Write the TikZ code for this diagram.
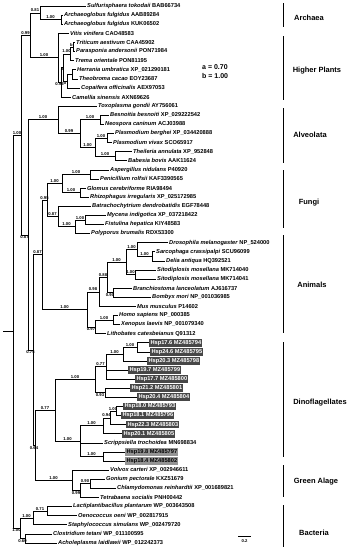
\documentclass[tikz,border=0pt]{standalone}
\usepackage{fontspec}
\setmainfont{Liberation Sans}
\newcommand{\taxon}[2]{\textit{#1} #2}

\begin{document}
\begin{tikzpicture}[x=1pt, y=-1pt,
  branch/.style={line width=0.6pt},
  leaf/.style={anchor=west, inner sep=1pt, font=\fontsize{5.7}{6}\selectfont\bfseries},
  hsp/.style={leaf, fill=black!72, text=white, inner sep=1.3pt},
  hspl/.style={hsp, fill=black!42, text=black},
  sup/.style={inner sep=0.5pt, font=\fontsize{4.2}{4.5}\selectfont\bfseries},
  grp/.style={font=\fontsize{7.5}{8}\selectfont\bfseries},
  key/.style={anchor=west, inner sep=0pt, font=\fontsize{7}{8}\selectfont\bfseries},
  bar/.style={line width=1.2pt}]
\useasboundingbox (0,0) rectangle (352,550);
\node[leaf] (sulf) at (86,6.0) {\taxon{Sulfurisphaera tokodaii}{BAB66734}};
\node[leaf] (arcA) at (63,15.1) {\taxon{Archaeoglobus fulgidus}{AAB89284}};
\node[leaf] (arcK) at (63,24.2) {\taxon{Archaeoglobus fulgidus}{KUK06502}};
\node[leaf] (vit) at (69,33.3) {\taxon{Vitis vinifera}{CAO48583}};
\node[leaf] (tri) at (75,42.4) {\taxon{Triticum aestivum}{CAA45902}};
\node[leaf] (par) at (75,51.5) {\taxon{Parasponia andersonii}{PON71984}};
\node[leaf] (tre) at (74,60.6) {\taxon{Trema orientale}{PON81195}};
\node[leaf] (her) at (76,69.7) {\taxon{Herrania umbratica}{XP\_021290181}};
\node[leaf] (the) at (78,78.8) {\taxon{Theobroma cacao}{EOY23687}};
\node[leaf] (cop) at (80,87.9) {\taxon{Copaifera officinalis}{AEX97053}};
\node[leaf] (cam) at (71,97.0) {\taxon{Camellia sinensis}{AXN69626}};
\node[leaf] (tox) at (97,106.1) {\taxon{Toxoplasma gondii}{AY756061}};
\node[leaf] (bes) at (109,115.2) {\taxon{Besnoitia besnoiti}{XP\_029222542}};
\node[leaf] (neo) at (104,124.3) {\taxon{Neospora caninum}{ACJ03988}};
\node[leaf] (pbe) at (114,133.4) {\taxon{Plasmodium berghei}{XP\_034420888}};
\node[leaf] (pvi) at (112,142.5) {\taxon{Plasmodium vivax}{SCO65917}};
\node[leaf] (thi) at (132,151.6) {\taxon{Theileria annulata}{XP\_952848}};
\node[leaf] (bab) at (127,160.7) {\taxon{Babesia bovis}{AAK11624}};
\node[leaf] (asp) at (109,169.8) {\taxon{Aspergillus nidulans}{P40920}};
\node[leaf] (pen) at (99,178.9) {\taxon{Penicillium rolfsii}{KAF3390565}};
\node[leaf] (glo) at (86,188.0) {\taxon{Glomus cerebriforme}{RIA98494}};
\node[leaf] (rhi) at (89,197.1) {\taxon{Rhizophagus irregularis}{XP\_025172985}};
\node[leaf] (bat) at (91,206.2) {\taxon{Batrachochytrium dendrobatidis}{EGF78448}};
\node[leaf] (myc) at (106,215.3) {\taxon{Mycena indigotica}{XP\_037218422}};
\node[leaf] (fis) at (104,224.4) {\taxon{Fistulina hepatica}{KIY48583}};
\node[leaf] (pol) at (90,233.5) {\taxon{Polyporus brumalis}{RDX53300}};
\node[leaf] (dro) at (168,242.6) {\taxon{Drosophila melanogaster}{NP\_524000}};
\node[leaf] (sar) at (155,251.7) {\taxon{Sarcophaga crassipalpi}{SCU96099}};
\node[leaf] (del) at (165,260.8) {\taxon{Delia antiqua}{HQ392521}};
\node[leaf] (sia) at (156,269.9) {\taxon{Sitodiplosis mosellana}{MK714040}};
\node[leaf] (sib) at (156,279.0) {\taxon{Sitodiplosis mosellana}{MK714041}};
\node[leaf] (bra) at (132,288.1) {\taxon{Branchiostoma lanceolatum}{AJ616737}};
\node[leaf] (bom) at (151,297.2) {\taxon{Bombyx mori}{NP\_001036985}};
\node[leaf] (mus) at (136,306.3) {\taxon{Mus musculus}{P14602}};
\node[leaf] (hom) at (118,315.4) {\taxon{Homo sapiens}{NP\_000385}};
\node[leaf] (xen) at (120,324.5) {\taxon{Xenopus laevis}{NP\_001079340}};
\node[leaf] (lit) at (106,333.6) {\taxon{Lithobates catesbeianus}{Q91312}};
\node[hsp] (h17a) at (149,342.7) {Hsp17.6 MZ485794};
\node[hsp] (h24) at (150,351.8) {Hsp24.6 MZ485795};
\node[hsp] (h20c) at (147,360.9) {Hsp20.3 MZ485798};
\node[hsp] (h19a) at (128,370.0) {Hsp19.7 MZ485799};
\node[hsp] (h17b) at (135,379.1) {Hsp17.7 MZ485800};
\node[hsp] (h21) at (130,388.2) {Hsp21.2 MZ485801};
\node[hsp] (h20d) at (137,397.3) {Hsp20.4 MZ485804};
\node[hsp] (h18a) at (123,406.4) {Hsp18.0 MZ485793};
\node[hsp] (h18b) at (121,415.5) {Hsp18.1 MZ485796};
\node[hsp] (h22) at (126,424.6) {Hsp22.3 MZ485803};
\node[hsp] (h20a) at (122,433.7) {Hsp20.1 MZ485805};
\node[leaf] (scr) at (103,442.8) {\taxon{Scrippsiella trochoidea}{MN698834}};
\node[hspl] (h19b) at (125,451.9) {Hsp19.8 MZ485797};
\node[hspl] (h18c) at (125,461.0) {Hsp18.4 MZ485802};
\node[leaf] (vol) at (109,470.1) {\taxon{Volvox carteri}{XP\_002946611}};
\node[leaf] (gon) at (105,479.2) {\taxon{Gonium pectorale}{KXZ51679}};
\node[leaf] (chl) at (116,488.3) {\taxon{Chlamydomonas reinhardtii}{XP\_001689821}};
\node[leaf] (tet) at (99,497.4) {\taxon{Tetrabaena socialis}{PNH00442}};
\node[leaf] (lac) at (72,506.5) {\taxon{Lactiplantibacillus plantarum}{WP\_003643508}};
\node[leaf] (oen) at (77,515.6) {\taxon{Oenococcus oeni}{WP\_002817915}};
\node[leaf] (sta) at (67,524.7) {\taxon{Staphylococcus simulans}{WP\_002479720}};
\node[leaf] (clo) at (52,533.8) {\taxon{Clostridium tetani}{WP\_011100595}};
\node[leaf] (ach) at (57,542.9) {\taxon{Acholeplasma laidlawii}{WP\_012242373}};
\coordinate (arc) at (61,19.65);
\coordinate (n081) at (40,12.8);
\coordinate (tripar) at (73,46.95);
\coordinate (trp) at (70,53.8);
\coordinate (herthe) at (72,74.25);
\coordinate (herc) at (67,81.1);
\coordinate (pa) at (63,67.4);
\coordinate (p093) at (61,82.2);
\coordinate (p100) at (58,57.75);
\coordinate (n099) at (30,35.3);
\coordinate (besneo) at (100,119.75);
\coordinate (plas) at (107,137.95);
\coordinate (thba) at (115,156.15);
\coordinate (apic) at (95,147.05);
\coordinate (a099) at (80,133.4);
\coordinate (alv) at (58,119.75);
\coordinate (asppen) at (90,174.35);
\coordinate (glorhi) at (80,192.55);
\coordinate (f1) at (62,183.45);
\coordinate (mycfis) at (85,219.85);
\coordinate (f3) at (75,226.7);
\coordinate (f087) at (58,216.45);
\coordinate (fun) at (47,199.95);
\coordinate (sardel) at (152,256.25);
\coordinate (dros) at (137,249.4);
\coordinate (sito) at (135,274.45);
\coordinate (ins) at (126,261.9);
\coordinate (brabom) at (113,292.65);
\coordinate (an088) at (107,277.3);
\coordinate (an098) at (99,291.8);
\coordinate (homxen) at (113,319.95);
\coordinate (vert) at (95,326.8);
\coordinate (ani) at (87,309.3);
\coordinate (fa) at (42,254.6);
\coordinate (h176) at (137,347.25);
\coordinate (h203) at (123,354.1);
\coordinate (d077) at (106,366.6);
\coordinate (h212) at (105,392.75);
\coordinate (d1) at (95,379.7);
\coordinate (h180) at (116,410.95);
\coordinate (d094) at (110,417.8);
\coordinate (d7) at (103,425.75);
\coordinate (h198) at (103,456.45);
\coordinate (d2) at (80,441.1);
\coordinate (d0) at (55,410.4);
\coordinate (gonchl) at (90,483.75);
\coordinate (g099) at (80,490.6);
\coordinate (grn) at (72,480.35);
\coordinate (n064) at (35,445.4);
\coordinate (n075) at (33,350);
\coordinate (n087) at (28,234.9);
\coordinate (n100) at (21,135.1);
\coordinate (lacoen) at (47,511.05);
\coordinate (b100) at (33,517.9);
\coordinate (clach) at (25,538.35);
\coordinate (bac) at (20,528.1);
\coordinate (root) at (13,331.6);
\coordinate (start) at (3,331.6);
\draw[branch] (start) -- (root);
\draw[branch] (root) |- node[sup,pos=.75,above]{1.00} (n100);
\draw[branch] (root) |- node[sup,pos=.75,below]{1.00} (bac);
\draw[branch] (n100) |- node[sup,pos=.75,above]{0.99} (n099);
\draw[branch] (n100) |- node[sup,pos=.75,below]{0.87} (n087);
\draw[branch] (n099) |- node[sup,pos=.75,above]{0.81} (n081);
\draw[branch] (n099) |- node[sup,pos=.75,above]{1.00} (p100);
\draw[branch] (n081) |- (sulf);
\draw[branch] (n081) |- node[sup,pos=.75,above]{1.00} (arc);
\draw[branch] (arc) |- (arcA) (arc) |- (arcK);
\draw[branch] (p100) |- (vit);
\draw[branch] (p100) |- node[sup,pos=.75,below]{0.93} (p093);
\draw[branch] (p093) |- node[sup,pos=.75,below]{a} (pa);
\draw[branch] (p093) |- (cam);
\draw[branch] (pa) |- node[sup,pos=.75,above]{1.00} (trp);
\draw[branch] (pa) |- node[sup,pos=.75,below]{b} (herc);
\draw[branch] (trp) |- node[sup,pos=.75,above]{b} (tripar);
\draw[branch] (trp) |- (tre);
\draw[branch] (tripar) |- (tri) (tripar) |- (par);
\draw[branch] (herc) |- (herthe) (herc) |- (cop);
\draw[branch] (herthe) |- (her) (herthe) |- (the);
\draw[branch] (n087) |- node[sup,pos=.75,above]{1.00} (alv);
\draw[branch] (n087) |- node[sup,pos=.75,below]{0.75} (n075);
\draw[branch] (alv) |- (tox);
\draw[branch] (alv) |- node[sup,pos=.75,above]{0.99} (a099);
\draw[branch] (a099) |- node[sup,pos=.75,above]{1.00} (besneo);
\draw[branch] (a099) |- node[sup,pos=.75,above]{1.00} (apic);
\draw[branch] (besneo) |- (bes) (besneo) |- (neo);
\draw[branch] (apic) |- node[sup,pos=.75,above]{1.00} (plas);
\draw[branch] (apic) |- node[sup,pos=.75,above]{1.00} (thba);
\draw[branch] (plas) |- (pbe) (plas) |- (pvi);
\draw[branch] (thba) |- (thi) (thba) |- (bab);
\draw[branch] (n075) |- node[sup,pos=.75,above]{0.87} (fa);
\draw[branch] (n075) |- node[sup,pos=.75,below]{0.64} (n064);
\draw[branch] (fa) |- node[sup,pos=.75,above]{0.95} (fun);
\draw[branch] (fa) |- node[sup,pos=.75,above]{1.00} (ani);
\draw[branch] (fun) |- node[sup,pos=.75,above]{1.00} (f1);
\draw[branch] (fun) |- node[sup,pos=.75,above]{0.87} (f087);
\draw[branch] (f1) |- node[sup,pos=.75,above]{1.00} (asppen);
\draw[branch] (f1) |- node[sup,pos=.75,above]{1.00} (glorhi);
\draw[branch] (asppen) |- (asp) (asppen) |- (pen);
\draw[branch] (glorhi) |- (glo) (glorhi) |- (rhi);
\draw[branch] (f087) |- (bat);
\draw[branch] (f087) |- node[sup,pos=.75,above]{1.00} (f3);
\draw[branch] (f3) |- node[sup,pos=.75,above]{1.00} (mycfis);
\draw[branch] (f3) |- (pol);
\draw[branch] (mycfis) |- (myc) (mycfis) |- (fis);
\draw[branch] (ani) |- node[sup,pos=.75,above]{0.98} (an098);
\draw[branch] (ani) |- node[sup,pos=.75,below]{0.97} (vert);
\draw[branch] (an098) |- node[sup,pos=.75,above]{0.88} (an088);
\draw[branch] (an098) |- (mus);
\draw[branch] (an088) |- node[sup,pos=.75,above]{1.00} (ins);
\draw[branch] (an088) |- node[sup,pos=.75,below]{0.90} (brabom);
\draw[branch] (ins) |- node[sup,pos=.75,above]{1.00} (dros);
\draw[branch] (ins) |- node[sup,pos=.75,above]{1.00} (sito);
\draw[branch] (dros) |- (dro);
\draw[branch] (dros) |- node[sup,pos=.75,above]{1.00} (sardel);
\draw[branch] (sardel) |- (sar) (sardel) |- (del);
\draw[branch] (sito) |- (sia) (sito) |- (sib);
\draw[branch] (brabom) |- (bra) (brabom) |- (bom);
\draw[branch] (vert) |- node[sup,pos=.75,above]{1.00} (homxen);
\draw[branch] (vert) |- (lit);
\draw[branch] (homxen) |- (hom) (homxen) |- (xen);
\draw[branch] (n064) |- node[sup,pos=.75,above]{0.77} (d0);
\draw[branch] (n064) |- node[sup,pos=.75,above]{1.00} (grn);
\draw[branch] (d0) |- node[sup,pos=.75,above]{1.00} (d1);
\draw[branch] (d0) |- node[sup,pos=.75,above]{1.00} (d2);
\draw[branch] (d1) |- node[sup,pos=.75,above]{0.77} (d077);
\draw[branch] (d1) |- node[sup,pos=.75,below]{0.93} (h212);
\draw[branch] (d077) |- node[sup,pos=.75,above]{1.00} (h203);
\draw[branch] (d077) |- (h19a) (d077) |- (h17b);
\draw[branch] (h203) |- node[sup,pos=.75,above]{1.00} (h176);
\draw[branch] (h203) |- (h20c);
\draw[branch] (h176) |- (h17a) (h176) |- (h24);
\draw[branch] (h212) |- (h21) (h212) |- (h20d);
\draw[branch] (d2) |- node[sup,pos=.75,above]{1.00} (d7);
\draw[branch] (d2) |- (scr);
\draw[branch] (d2) |- node[sup,pos=.75,above]{1.00} (h198);
\draw[branch] (d7) |- node[sup,pos=.75,above]{0.94} (d094);
\draw[branch] (d7) |- (h20a);
\draw[branch] (d094) |- node[sup,pos=.75,above]{1.00} (h180);
\draw[branch] (d094) |- (h22);
\draw[branch] (h180) |- (h18a) (h180) |- (h18b);
\draw[branch] (h198) |- (h19b) (h198) |- (h18c);
\draw[branch] (grn) |- (vol);
\draw[branch] (grn) |- node[sup,pos=.75,below]{0.99} (g099);
\draw[branch] (g099) |- node[sup,pos=.75,above]{0.90} (gonchl);
\draw[branch] (g099) |- (tet);
\draw[branch] (gonchl) |- (gon) (gonchl) |- (chl);
\draw[branch] (bac) |- node[sup,pos=.75,above]{1.00} (b100);
\draw[branch] (bac) |- node[sup,pos=.75,below]{0.60} (clach);
\draw[branch] (b100) |- node[sup,pos=.75,above]{0.71} (lacoen);
\draw[branch] (b100) |- (sta);
\draw[branch] (lacoen) |- (lac) (lacoen) |- (oen);
\draw[branch] (clach) |- (clo) (clach) |- (ach);
\draw[bar] (283.5,3) -- (283.5,27);
\draw[bar] (283.5,36) -- (283.5,100);
\draw[bar] (283.5,108) -- (283.5,163);
\draw[bar] (283.5,170) -- (283.5,228);
\draw[bar] (283.5,235) -- (283.5,333);
\draw[bar] (283.5,342) -- (283.5,457);
\draw[bar] (283.5,465) -- (283.5,497);
\draw[bar] (283.5,505) -- (283.5,547);
\node[grp] (archaea) at (309,18) {Archaea};
\node[grp] (plants) at (317,71) {Higher Plants};
\node[grp] (alveolata) at (310,135) {Alveolata};
\node[grp] (fungi) at (309,203) {Fungi};
\node[grp] (animals) at (312,285) {Animals};
\node[grp] (dino) at (320,403) {Dinoflagellates};
\node[grp] (green) at (316,482) {Green Alage};
\node[grp] (bacteria) at (314,533) {Bacteria};
\node[key] (keya) at (202,67) {a = 0.70};
\node[key] (keyb) at (202,76) {b = 1.00};
\draw[line width=0.9pt] (238,536) -- (251,536);
\node[sup] (scale) at (244.5,541.5) {0.2};
\end{tikzpicture}
\end{document}
